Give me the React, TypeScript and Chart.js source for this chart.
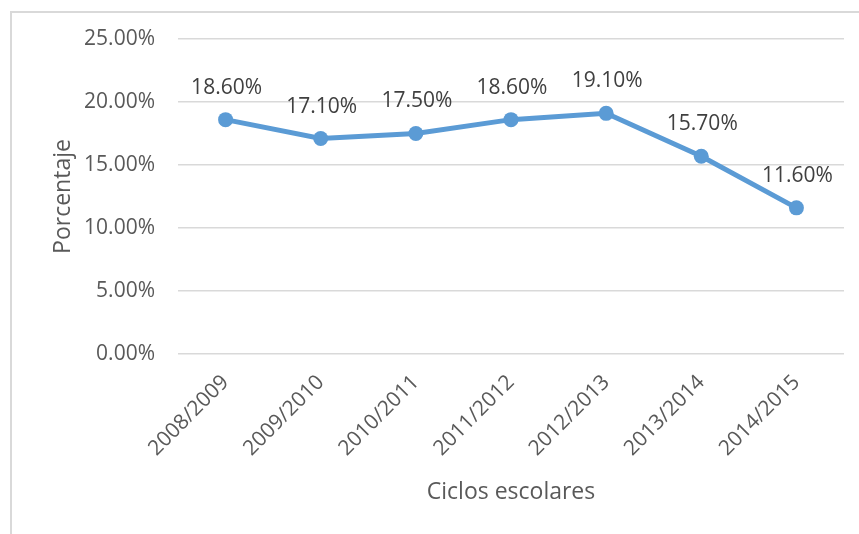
import React, { useEffect, useRef } from "react";
import { Chart, registerables } from "chart.js";

Chart.register(...registerables);

const categories = ["2008/2009", "2009/2010", "2010/2011", "2011/2012", "2012/2013", "2013/2014", "2014/2015"];
const values = [18.6, 17.1, 17.5, 18.6, 19.1, 15.7, 11.6];
const yTitle = "Porcentaje";
const xTitle = "Ciclos escolares";

const FONT = "'Open Sans', sans-serif";

const dataLabelPlugin = {
  id: "dataLabels",
  afterDatasetsDraw(chart: any) {
    const ctx = chart.ctx;
    const meta = chart.getDatasetMeta(0);
    ctx.save();
    ctx.font = `21px ${FONT}`;
    ctx.fillStyle = "#404040";
    ctx.textAlign = "center";
    ctx.textBaseline = "middle";
    meta.data.forEach((pt: any, i: number) => {
      ctx.fillText(values[i].toFixed(2) + "%", pt.x + 1, pt.y - 32);
    });
    ctx.restore();
  },
};

export default function App() {
  const ref = useRef<HTMLCanvasElement>(null);
  useEffect(() => {
    const chart = new Chart(ref.current!, {
      type: "line",
      data: {
        labels: categories,
        datasets: [
          {
            data: values,
            borderColor: "#5B9BD5",
            backgroundColor: "#5B9BD5",
            borderWidth: 5,
            pointRadius: 7.5,
            pointHoverRadius: 7.5,
            pointBackgroundColor: "#5B9BD5",
            pointBorderWidth: 0,
            tension: 0,
          },
        ],
      },
      options: {
        responsive: false,
        animation: false,
        devicePixelRatio: 1,
        layout: { padding: { left: 0, top: 39, right: 15, bottom: 0 } },
        plugins: { legend: { display: false }, tooltip: { enabled: false } },
        scales: {
          x: {
            offset: true,
            grid: { display: false, drawTicks: false },
            border: { display: false },
            ticks: {
              minRotation: 45,
              maxRotation: 45,
              padding: 16,
              color: "#595959",
              font: { family: FONT, size: 21 },
            },
            title: {
              display: true,
              text: xTitle,
              color: "#595959",
              font: { family: FONT, size: 23 },
              padding: { top: 0, bottom: 28 },
            },
            afterFit: (s: any) => {
              s.height = 180;
            },
          },
          y: {
            min: 0,
            max: 25,
            grid: { color: "#d9d9d9", lineWidth: 1.5, drawTicks: false },
            border: { display: false },
            ticks: {
              stepSize: 5,
              padding: 23,
              color: "#595959",
              font: { family: FONT, size: 21 },
              callback: (v: any) => Number(v).toFixed(2) + "%",
            },
            title: {
              display: true,
              text: yTitle,
              color: "#595959",
              font: { family: FONT, size: 23 },
              padding: { top: 50, bottom: 0 },
            },
            afterFit: (s: any) => {
              s.width = 178;
            },
          },
        },
      },
      plugins: [dataLabelPlugin],
    });
    return () => chart.destroy();
  }, []);

  return (
    <div style={{ position: "fixed", left: 0, top: 0, width: 859, height: 534, background: "#fff", overflow: "hidden" }}>
      <div
        style={{
          position: "absolute",
          left: 10,
          top: 11,
          width: 1000,
          height: 1000,
          borderLeft: "2px solid #d9d9d9",
          borderTop: "2px solid #d9d9d9",
        }}
      />
      <canvas ref={ref} width={859} height={534} style={{ position: "absolute", left: 0, top: 0 }} />
    </div>
  );
}
